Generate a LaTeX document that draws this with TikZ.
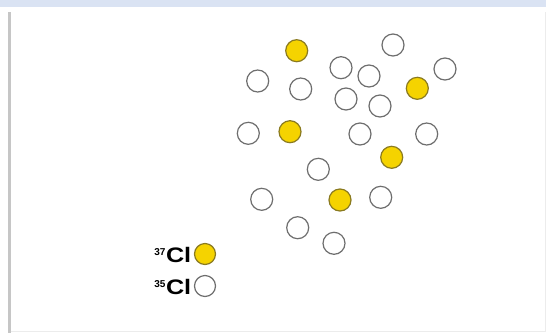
\documentclass[tikz,border=0pt]{standalone}
\usepackage{fontspec}
\setmainfont{Liberation Sans}
\definecolor{bandblue}{HTML}{DAE3F3}
\definecolor{clgold}{HTML}{F5D300}
\definecolor{clrim}{HTML}{8A7A20}
\definecolor{rimgray}{HTML}{6E6E6E}
\tikzset{
  heavy/.style={circle, draw=clrim, fill=clgold, line width=1.2pt, minimum size=22pt, inner sep=0pt},
  light/.style={circle, draw=rimgray, fill=white, line width=1.2pt, minimum size=22pt, inner sep=0pt},
  keytext/.style={anchor=east, inner sep=0pt, font=\bfseries\fontsize{21}{21}\selectfont}
}
\newcommand{\isotag}[1]{\raisebox{7pt}{\fontsize{10}{10}\selectfont #1}\kern0.5pt}
\begin{document}
\begin{tikzpicture}[x=1pt, y=-1pt]
  \useasboundingbox (0,0) rectangle (546,333);
  % frame
  \fill[bandblue] (0,0) rectangle (546,7);
  \fill[white] (0,7) rectangle (546,333);
  \fill[gray!45] (8,12) rectangle (10.5,333);
  \draw[gray!15, line width=1pt] (10.5,331.5) -- (546,331.5);
  \draw[gray!15, line width=1pt] (545,12) -- (545,331.5);

  % 37Cl atoms
  \node[heavy] (h1) at (296.7,50.7) {};
  \node[heavy] (h2) at (417.3,88.3) {};
  \node[heavy] (h3) at (290,131.7) {};
  \node[heavy] (h4) at (391.7,157.3) {};
  \node[heavy] (h5) at (340,200) {};

  % 35Cl atoms
  \node[light] (l1) at (393,45) {};
  \node[light] (l2) at (445,69) {};
  \node[light] (l3) at (341,67.7) {};
  \node[light] (l4) at (369,76) {};
  \node[light] (l5) at (257.7,81) {};
  \node[light] (l6) at (300.7,89) {};
  \node[light] (l7) at (346,99) {};
  \node[light] (l8) at (380,106) {};
  \node[light] (l9) at (248.3,133.3) {};
  \node[light] (l10) at (360,134) {};
  \node[light] (l11) at (426.7,134) {};
  \node[light] (l12) at (318.3,169.3) {};
  \node[light] (l13) at (261.7,199.3) {};
  \node[light] (l14) at (380.7,197.3) {};
  \node[light] (l15) at (297.7,227.7) {};
  \node[light] (l16) at (334,243.3) {};

  % legend
  \node[heavy, minimum size=21pt] (keyA) at (205,254) {};
  \node[light, minimum size=21pt] (keyB) at (205,286) {};
  \node[keytext] (keyAtxt) at ([xshift=-2.5pt, yshift=-0.5pt]keyA.west) {\isotag{37}\scalebox{1.2}[1]{Cl}};
  \node[keytext] (keyBtxt) at ([xshift=-2.5pt, yshift=-0.5pt]keyB.west) {\isotag{35}\scalebox{1.2}[1]{Cl}};
\end{tikzpicture}
\end{document}
